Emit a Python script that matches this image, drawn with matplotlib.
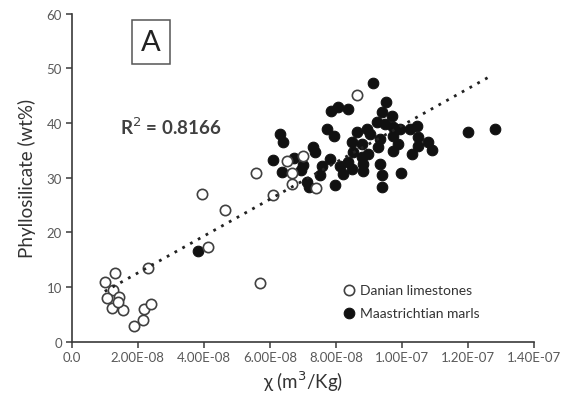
import matplotlib
matplotlib.use("Agg")
import matplotlib.pyplot as plt
import numpy as np

plt.rcParams['font.family'] = ['Lato', 'DejaVu Sans']

# Magnetic susceptibility (x 1e-8 m3/kg) and phyllosilicate content (wt%)
danian_chi = [1.01, 1.31, 1.25, 1.07, 1.43, 1.22, 1.54, 1.39, 2.31, 2.19,
              2.40, 2.16, 1.89, 3.96, 4.65, 4.13, 5.71, 5.58, 6.10, 6.52,
              7.01, 6.67, 6.66, 7.40, 8.63]
danian_phyl = [10.9, 12.5, 9.5, 7.9, 8.1, 6.1, 5.8, 7.2, 13.4, 6.0,
               6.9, 3.9, 2.8, 26.9, 24.0, 17.3, 10.7, 30.8, 26.8, 33.0,
               33.9, 30.9, 28.8, 28.1, 45.1]

maas_chi = [3.83, 9.13, 9.52, 7.86, 8.07, 8.37, 9.40, 9.71, 9.25, 9.49,
            9.74, 9.95, 10.25, 10.46, 10.49, 10.80, 10.92, 10.49, 10.31, 9.74,
            9.89, 9.74, 8.95, 8.65, 9.04, 9.34, 9.28, 8.50, 8.80, 8.52,
            8.80, 8.98, 7.83, 8.13, 8.37, 8.83, 8.22, 8.83, 9.34, 9.40,
            9.98, 7.98, 9.40, 7.74, 7.95, 6.31, 6.40, 7.31, 7.37, 6.10,
            6.74, 6.37, 7.01, 6.95, 7.58, 7.52, 7.13, 7.19, 8.50, 12.01,
            12.83]
maas_phyl = [16.5, 47.2, 43.9, 42.1, 42.9, 42.5, 41.9, 41.2, 40.1, 39.8,
             39.2, 38.8, 38.8, 39.4, 37.4, 36.5, 35.0, 35.7, 34.3, 37.6,
             36.1, 34.8, 38.8, 38.3, 37.9, 37.0, 35.6, 36.5, 36.1, 34.6,
             33.7, 34.3, 33.4, 32.1, 32.8, 32.4, 30.6, 31.2, 32.4, 30.4,
             30.8, 28.6, 28.2, 38.9, 37.6, 37.9, 36.5, 35.5, 34.6, 33.2,
             33.5, 31.1, 32.2, 31.4, 32.1, 30.4, 29.2, 28.2, 31.5, 38.3,
             38.9]

# Linear trend of the combined data set
trend_slope = 3.37      # wt% per 1e-8 m3/kg
trend_intercept = 5.8   # wt%
trend_range = [1.0, 12.75]
r2_label = "R$^{2}$ = 0.8166"

xticks = [0, 2, 4, 6, 8, 10, 12, 14]
xticklabels = ["0.0", "2.00E-08", "4.00E-08", "6.00E-08", "8.00E-08",
               "1.00E-07", "1.20E-07", "1.40E-07"]
yticks = [0, 10, 20, 30, 40, 50, 60]

scale = 1e-8
fig = plt.figure(figsize=(5.65, 4.10), dpi=100)
ax = fig.add_axes([0.127, 0.1646, 0.818, 0.80])

axis_col = "#3a3a3a"
label_col = "#595959"

open_style = dict(s=55, facecolors="white", edgecolors="#404040", linewidths=1.2)
fill_style = dict(s=58, facecolors="#111111", edgecolors="#111111", linewidths=0.8)

ax.scatter(np.array(danian_chi) * scale, danian_phyl, zorder=3, **open_style)
ax.scatter(np.array(maas_chi) * scale, maas_phyl, zorder=2, **fill_style)

tx = np.array(trend_range)
ax.plot(tx * scale, trend_slope * tx + trend_intercept, linestyle=(0, (1, 2.2)),
        color="#222222", linewidth=2.0, zorder=4)

ax.set_xlim(0, 14 * scale)
ax.set_ylim(0, 60)
ax.set_xticks(np.array(xticks) * scale)
ax.set_xticklabels(xticklabels)
ax.set_yticks(yticks)

for side in ("top", "right"):
    ax.spines[side].set_visible(False)
for side in ("left", "bottom"):
    ax.spines[side].set_color(axis_col)
    ax.spines[side].set_linewidth(1.2)
ax.tick_params(direction="out", length=4, width=1.1, color=axis_col,
               labelsize=9.5, labelcolor=label_col, pad=3)

ax.set_xlabel("χ (m$^{3}$/Kg)", fontsize=13.5, color="#333333", labelpad=4)
ax.set_ylabel("Phyllosilicate (wt%)", fontsize=13.5, color="#333333", labelpad=8)

# Panel letter and fit statistic
ax.text(0.171, 0.913, "A", transform=ax.transAxes, fontsize=21, color="#222222",
        ha="center", va="center",
        bbox=dict(boxstyle="square,pad=0.32", facecolor="white",
                  edgecolor="#555555", linewidth=1.1))
ax.text(0.105, 0.657, r2_label, transform=ax.transAxes, fontsize=13.5,
        fontweight="bold", color="#404040", ha="left", va="center")

# Key
key_x = 0.600
key_rows = [(0.157, "Danian limestones", open_style),
            (0.087, "Maastrichtian marls", fill_style)]
for ky, name, style in key_rows:
    ax.scatter([key_x], [ky], transform=ax.transAxes, clip_on=False,
               zorder=5, **style)
    ax.text(key_x + 0.024, ky, name, transform=ax.transAxes, fontsize=10,
            color="#333333", ha="left", va="center")

fig.savefig("out.png", dpi=100)
